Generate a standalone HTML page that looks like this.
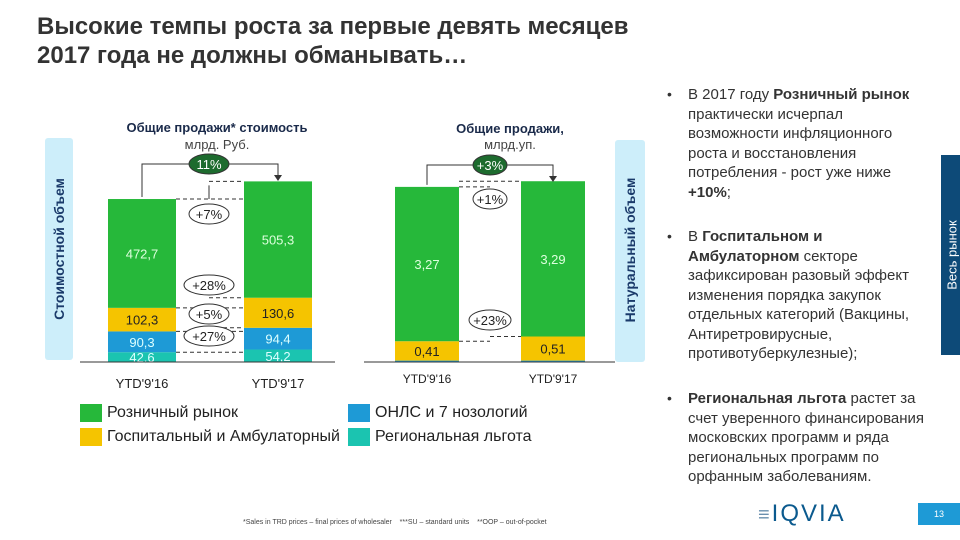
<!DOCTYPE html>
<html><head><meta charset="utf-8"><style>
body{margin:0;width:960px;height:540px;overflow:hidden;background:#fff;font-family:"Liberation Sans",sans-serif;position:relative}
.a{position:absolute}
.t{font-size:24px;font-weight:bold;color:#333;left:37px;top:12px;line-height:29px}
.rt{left:688px;font-size:15px;color:#333;line-height:19.5px;width:270px;white-space:nowrap}
.bul{left:667px;font-size:14px;color:#333}
.leg{font-size:16px;color:#222}
</style></head><body>
<div class="a t">Высокие темпы роста за первые девять месяцев<br>2017 года не должны обманывать…</div>

<div class="a" style="left:45px;top:138px;width:28px;height:222px;background:#cdeefa;border-radius:3px"></div>
<div class="a" style="left:59px;top:249px;transform:translate(-50%,-50%) rotate(-90deg);white-space:nowrap;font-weight:bold;font-size:14px;color:#1a3a6a">Стоимостной объем</div>
<div class="a" style="left:615px;top:140px;width:30px;height:222px;background:#cdeefa;border-radius:3px"></div>
<div class="a" style="left:630px;top:250px;transform:translate(-50%,-50%) rotate(-90deg);white-space:nowrap;font-weight:bold;font-size:14px;color:#1a3a6a">Натуральный объем</div>
<div class="a" style="left:941px;top:155px;width:19px;height:200px;background:#0d4a78"></div>
<div class="a" style="left:952px;top:255px;transform:translate(-50%,-50%) rotate(-90deg);white-space:nowrap;font-size:13px;color:#fff">Весь рынок</div>

<svg class="a" style="left:0;top:0" width="960" height="540" id="chart"></svg>

<div class="a bul" style="top:86px">•</div>
<div class="a rt" style="top:85px">В 2017 году <b>Розничный рынок</b><br>практически исчерпал<br>возможности инфляционного<br>роста и восстановления<br>потребления - рост уже ниже<br><b>+10%</b>;</div>
<div class="a bul" style="top:228px">•</div>
<div class="a rt" style="top:227px">В <b>Госпитальном и</b><br><b>Амбулаторном</b> секторе<br>зафиксирован разовый эффект<br>изменения порядка закупок<br>отдельных категорий (Вакцины,<br>Антиретровирусные,<br>противотуберкулезные);</div>
<div class="a bul" style="top:390px">•</div>
<div class="a rt" style="top:389px"><b>Региональная льгота</b> растет за<br>счет уверенного финансирования<br>московских программ и ряда<br>региональных программ по<br>орфанным заболеваниям.</div>

<div class="a" style="left:80px;top:404px;width:22px;height:18px;background:#26b83a"></div>
<div class="a leg" style="left:107px;top:404px">Розничный рынок</div>
<div class="a" style="left:80px;top:428px;width:22px;height:18px;background:#f5c400"></div>
<div class="a leg" style="left:107px;top:428px">Госпитальный и Амбулаторный</div>
<div class="a" style="left:348px;top:404px;width:22px;height:18px;background:#1e9ad6"></div>
<div class="a leg" style="left:375px;top:404px">ОНЛС и 7 нозологий</div>
<div class="a" style="left:348px;top:428px;width:22px;height:18px;background:#1bc4b0"></div>
<div class="a leg" style="left:375px;top:428px">Региональная льгота</div>

<div class="a" style="left:243px;top:519px;font-size:7px;color:#444;white-space:nowrap">*Sales in TRD prices – final prices of wholesaler &nbsp;&nbsp; ***SU – standard units &nbsp;&nbsp; **OOP – out-of-pocket</div>
<div class="a" style="left:758px;top:500px;font-size:24px;color:#0b5a8e;letter-spacing:2px"><span style="color:#6a8fae;font-size:20px">≡</span>IQVIA</div>
<div class="a" style="left:918px;top:503px;width:42px;height:22px;background:#1e9ad6;color:#fff;font-size:9px;text-align:center;line-height:22px">13</div>

<script>
const valueCats=["YTD'9'16","YTD'9'17"];
const valueRegional=[42.6,54.2];
const valueOnls=[90.3,94.4];
const valueHospital=[102.3,130.6];
const valueRetail=[472.7,505.3];
const volumeCats=["YTD'9'16","YTD'9'17"];
const volumeOnls=[0.03,0.03];
const volumeHospital=[0.41,0.51];
const volumeRetail=[3.27,3.29];
const valueLabels=["472,7","505,3","102,3","130,6","90,3","94,4","42,6","54,2"];
const volumeLabels=["3,27","3,29","0,41","0,51"];

const svg=document.getElementById('chart');
const NS='http://www.w3.org/2000/svg';
function el(t,a,txt){const e=document.createElementNS(NS,t);for(const k in a)e.setAttribute(k,a[k]);if(txt!=null)e.textContent=txt;svg.appendChild(e);return e;}
const base=362;
const yV=v=>v*163/708;
const yU=v=>v*47.2;
const COL={retail:'#26b83a',hosp:'#f5c400',onls:'#1e9ad6',reg:'#1bc4b0'};

function stack(x,w,series,scale,labels,name){
  let y=base;const tops=[];
  series.forEach((s,i)=>{
    const h=scale(s.v);y-=h;
    const r=el('rect',{x:x,y:y,width:w,height:h,fill:s.c});
    
    
    tops.push(y);
    if(s.l){const t=el('text',{x:x+w/2,y:y+h/2+5,'text-anchor':'middle','font-size':13,fill:s.tc,'font-family':'Liberation Sans'},s.l);
      
      }
  });
  return tops;
}
const vx=[108,244], vw=68;
const vt=[];
for(let i=0;i<2;i++){
  vt.push(stack(vx[i],vw,[
    {v:valueRegional[i],c:COL.reg,n:'regional',l:valueLabels[6+i],tc:'#dff'},
    {v:valueOnls[i],c:COL.onls,n:'onls',l:valueLabels[4+i],tc:'#dff'},
    {v:valueHospital[i],c:COL.hosp,n:'hospital',l:valueLabels[2+i],tc:'#222'},
    {v:valueRetail[i],c:COL.retail,n:'retail',l:valueLabels[i],tc:'#dfd'}],yV,null,'value-bar-'+(i+1)));
  const t=el('text',{x:vx[i]+vw/2,y:388,'text-anchor':'middle','font-size':13,fill:'#222'},valueCats[i]);
  
  
}
el('line',{x1:80,x2:335,y1:base,y2:base,stroke:'#333'});
const ux=[395,521], uw=64;
const ut=[];
for(let i=0;i<2;i++){
  ut.push(stack(ux[i],uw,[
    {v:volumeOnls[i],c:COL.onls,n:'onls'},
    {v:volumeHospital[i],c:COL.hosp,n:'hospital',l:volumeLabels[2+i],tc:'#222'},
    {v:volumeRetail[i],c:COL.retail,n:'retail',l:volumeLabels[i],tc:'#dfd'}],yU,null,'volume-bar-'+(i+1)));
  const t=el('text',{x:ux[i]+uw/2,y:383,'text-anchor':'middle','font-size':12,fill:'#222'},volumeCats[i]);
  
  
}
el('line',{x1:364,x2:615,y1:base,y2:base,stroke:'#333'});

el('text',{x:217,y:132,'text-anchor':'middle','font-size':13,'font-weight':'bold',fill:'#1a2a4a'},'Общие продажи* стоимость');
el('text',{x:217,y:149,'text-anchor':'middle','font-size':13,fill:'#444'},'млрд. Руб.');
el('text',{x:510,y:133,'text-anchor':'middle','font-size':13,'font-weight':'bold',fill:'#1a2a4a'},'Общие продажи,');
el('text',{x:510,y:149,'text-anchor':'middle','font-size':13,fill:'#444'},'млрд.уп.');

function dash(x1,x2,y){el('line',{x1:x1,x2:x2,y1:y,y2:y,stroke:'#333','stroke-dasharray':'4,3'});}
function oval(cx,cy,rx,txt,dark){
  el('ellipse',{cx:cx,cy:cy,rx:rx,ry:10,fill:dark?'#1d6b2e':'#fff',stroke:'#333'});
  el('text',{x:cx,y:cy+5,'text-anchor':'middle','font-size':13,fill:dark?'#fff':'#222'},txt);
}
const m1=vx[0]+vw/2,m2=vx[1]+vw/2;
el('polyline',{points:`${m1},${vt[0][3]-2} ${m1},164 ${m2},164 ${m2},175`,fill:'none',stroke:'#333'});
el('path',{d:`M${m2-4},175 L${m2+4},175 L${m2},181 Z`,fill:'#333'});
oval(209,164,20,'11%',true);
dash(vx[0]+vw,vx[1],vt[0][3]);dash(209,vx[1],vt[1][3]);
el('line',{x1:209,x2:209,y1:vt[0][3],y2:vt[1][3]+4,stroke:'#333'});
oval(209,214,20,'+7%',false);
dash(vx[0]+vw,vx[1],vt[0][2]);dash(209,vx[1],vt[1][2]);
oval(209,285,25,'+28%',false);
oval(209,314,20,'+5%',false);
dash(vx[0]+vw,vx[1],vt[0][1]);dash(209,vx[1],vt[1][1]);
oval(209,336,25,'+27%',false);
dash(vx[0]+vw,vx[1],vt[0][0]);
const n1=ux[0]+uw/2,n2=ux[1]+uw/2,mid=(ux[0]+uw+ux[1])/2;
el('polyline',{points:`${n1},${ut[0][2]-2} ${n1},165 ${n2},165 ${n2},176`,fill:'none',stroke:'#333'});
el('path',{d:`M${n2-4},176 L${n2+4},176 L${n2},182 Z`,fill:'#333'});
oval(mid,165,17,'+3%',true);
dash(ux[0]+uw,ux[1],ut[1][2]);dash(ux[0]+uw,mid,ut[0][2]);
oval(mid,199,17,'+1%',false);
dash(mid,ux[1],ut[1][1]);dash(ux[0]+uw,mid,ut[0][1]);
oval(mid,320,21,'+23%',false);
</script>
</body></html>
